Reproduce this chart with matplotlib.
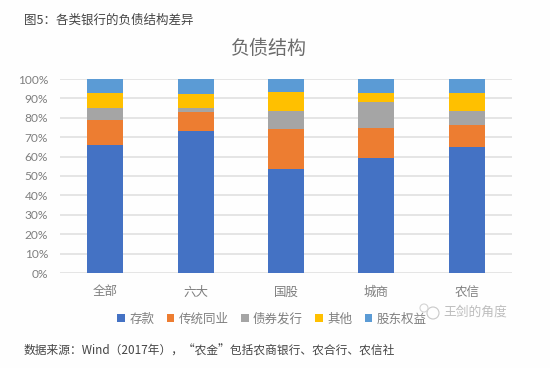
import matplotlib
matplotlib.use("Agg")
import matplotlib.pyplot as plt
from matplotlib.patches import Circle
import numpy as np

plt.rcParams['font.family'] = ['Noto Sans CJK SC', 'DejaVu Sans']

categories = ['全部', '六大', '国股', '城商', '农信']
series_names = ['存款', '传统同业', '债券发行', '其他', '股东权益']
colors = ['#4472c4', '#ed7d31', '#a5a5a5', '#ffc000', '#5b9bd5']

deposits = [66.0, 73.3, 53.5, 59.5, 64.8]
interbank = [13.1, 9.7, 20.5, 15.5, 11.5]
bonds = [5.9, 2.2, 9.3, 13.3, 7.2]
other = [7.8, 7.2, 10.0, 4.7, 9.3]
equity = [7.2, 7.6, 6.7, 7.0, 7.2]
yticks = [0, 10, 20, 30, 40, 50, 60, 70, 80, 90, 100]

W, H = 550, 368
fig = plt.figure(figsize=(W / 100, H / 100), dpi=100, facecolor='#fefefe')
ax = fig.add_axes([60 / W, 1 - 273 / H, 452 / W, 194 / H])
ax.set_facecolor('none')

# stacked bars, bottom up
x = np.arange(len(categories))
bottom = np.zeros(len(categories))
for vals, name, c in zip([deposits, interbank, bonds, other, equity], series_names, colors):
    ax.bar(x, vals, width=0.4, bottom=bottom, color=c, label=name, zorder=3)
    bottom += np.array(vals)

ax.set_xlim(-0.5, 4.5)
ax.set_ylim(0, 100)
ax.set_yticks(yticks)
ax.set_yticklabels([f'{v}%' for v in yticks], fontsize=8.6, color='#7f7f7f', family='Lato')
ax.set_xticks(x)
ax.set_xticklabels(categories, fontsize=9, color='#7f7f7f')
ax.tick_params(length=0)
ax.tick_params(axis='x', pad=9)
ax.tick_params(axis='y', pad=8.5)
ax.grid(axis='y', color='#e0e0e0', linewidth=1.2, zorder=0)
for s in ax.spines.values():
    s.set_visible(False)

fig.text(269 / W, 1 - 48 / H, '负债结构', fontsize=13.7, color='#6b6b6b', ha='center', va='center')
fig.text(24 / W, 1 - 20 / H, '图5：各类银行的负债结构差异', fontsize=9, color='#444444', va='center')
fig.text(24 / W, 1 - 351 / H, '数据来源：Wind（2017年），“农金”包括农商银行、农合行、农信社',
         fontsize=8.45, color='#444444', va='center')

# watermark
fig.text(443 / W, 1 - 312 / H, '王剑的角度', fontsize=9.2, color='#bdbdbd', ha='left', va='center')
fig.add_artist(Circle((433, H - 313), 6, transform=None, fill=False, edgecolor='#c8c8c8', linewidth=0.8))
fig.add_artist(Circle((424, H - 308), 4, transform=None, fill=False, edgecolor='#d4d4d4', linewidth=0.8))

ax.legend(loc='center', bbox_to_anchor=(272 / W, 1 - 319 / H), bbox_transform=fig.transFigure,
          ncol=5, frameon=False, fontsize=9, labelcolor='#7f7f7f', handlelength=0.6,
          handleheight=0.6, handletextpad=0.35, columnspacing=1.0)

fig.savefig('out.png', dpi=100, facecolor=fig.get_facecolor())
